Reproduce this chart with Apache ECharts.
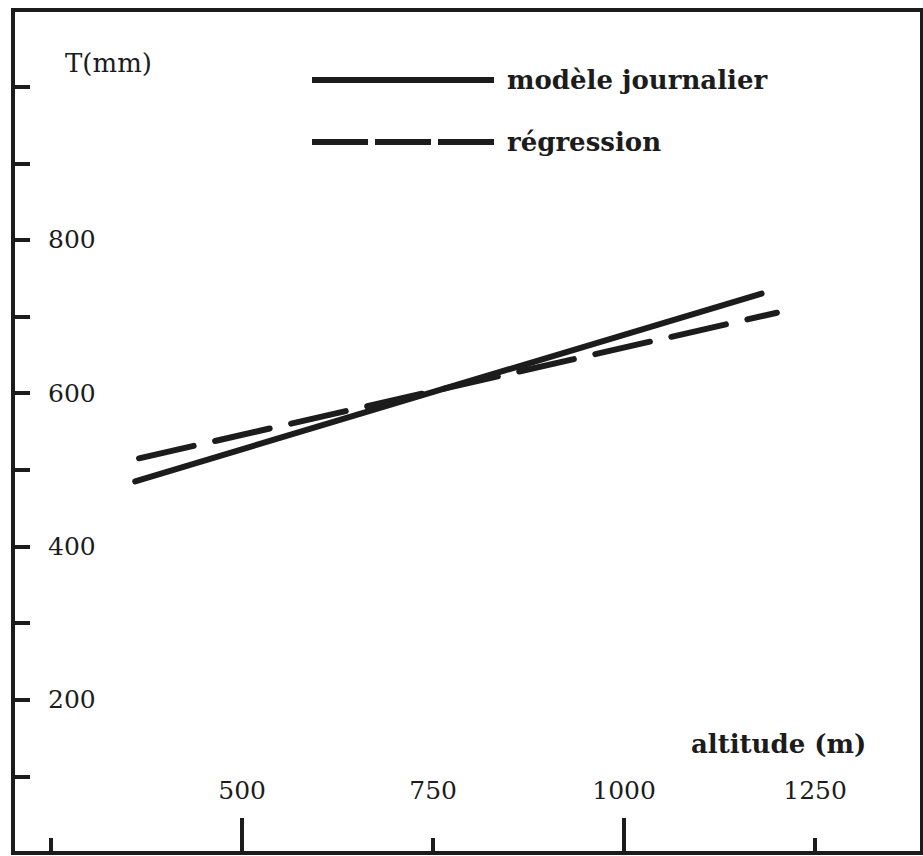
<!DOCTYPE html>
<html>
	<head>
		<meta charset="UTF-8">
		<title></title>
		<style>
			html, body{
				margin: 0;
				padding: 0;
				background: #fff;
			}
			#dContent{
				width: 923px;
				height: 856px;
			}
		</style>
	</head>
	<body>
		<div id="dContent"></div>
	</body>

	<script src="https://cdn.jsdelivr.net/npm/echarts@6/dist/echarts.min.js"></script>
	<script>
		// series names (legend)
		var seriesNames = ['modèle journalier', 'régression'];

		// end points: altitude (m) / T (mm)
		var altModele = [360, 1180];
		var tModele = [485, 730];
		var altRegression = [365, 1200];
		var tRegression = [515, 705];

		// ticks and labels
		var xTicksShort = [250, 750, 1250];
		var xTicksLong = [500, 1000];
		var xLabels = [500, 750, 1000, 1250];
		var yTicks = [100, 200, 300, 400, 500, 600, 700, 800, 900, 1000];
		var yLabels = [200, 400, 600, 800];

		var ink = '#1c1c1c';
		var font = 'DejaVu Serif';

		function pairs(xs, ys){
			var out = [];
			for (var i = 0; i < xs.length; i++) out.push([xs[i], ys[i]]);
			return out;
		}
		function plain(v){
			return String(v);
		}

		var oneChart = echarts.init(document.getElementById('dContent'), null, {renderer: 'svg'});
		oneChart.setOption({
			backgroundColor: '#fff',
			animation: false,
			title: [{
				text: 'T(mm)',
				left: 60,
				top: 45,
				textStyle: {fontFamily: font, fontSize: 26, fontWeight: 'normal', color: ink}
			}, {
				text: 'altitude (m)',
				left: 686,
				top: 726,
				textStyle: {fontFamily: font, fontSize: 26, fontWeight: 'bold', color: ink}
			}],
			legend: {
				orient: 'vertical',
				left: 304,
				top: 60,
				itemWidth: 182,
				itemHeight: 6,
				itemGap: 32,
				textStyle: {fontFamily: font, fontSize: 26, fontWeight: 'bold', color: ink, lineHeight: 30, padding: [0, 0, 0, 8]},
				data: [
					{name: seriesNames[0], icon: 'rect'},
					// key of the original: three long dashes, short gaps
					{name: seriesNames[1], lineStyle: {type: [56, 7], width: 6, cap: 'butt'}, itemStyle: {opacity: 0}}
				]
			},
			grid: {
				left: 13,
				right: 1,
				top: 10,
				bottom: 3,
				show: true,
				borderColor: ink,
				borderWidth: 4
			},
			xAxis: [{
				type: 'value',
				position: 'bottom',
				min: 200,
				max: 1390,
				axisLine: {show: true, lineStyle: {color: ink, width: 4}},
				axisTick: {show: true, inside: true, length: 15, customValues: xTicksShort, lineStyle: {color: ink, width: 4}},
				axisLabel: {inside: true, margin: 50, customValues: xLabels, formatter: plain, fontFamily: font, fontSize: 25, color: ink},
				splitLine: {show: false}
			}, {
				type: 'value',
				position: 'bottom',
				min: 200,
				max: 1390,
				axisLine: {show: false},
				axisTick: {show: true, inside: true, length: 35, customValues: xTicksLong, lineStyle: {color: ink, width: 4}},
				axisLabel: {show: false},
				splitLine: {show: false}
			}],
			yAxis: {
				type: 'value',
				min: 0,
				max: 1100,
				axisLine: {show: true, lineStyle: {color: ink, width: 4}},
				axisTick: {show: true, inside: true, length: 17, customValues: yTicks, lineStyle: {color: ink, width: 4}},
				axisLabel: {inside: true, margin: 35, customValues: yLabels, formatter: plain, fontFamily: font, fontSize: 25, color: ink},
				splitLine: {show: false}
			},
			series: [{
				name: seriesNames[0],
				type: 'line',
				symbol: 'none',
				data: pairs(altModele, tModele),
				lineStyle: {color: ink, width: 6, cap: 'round'},
				itemStyle: {color: ink}
			}, {
				name: seriesNames[1],
				type: 'line',
				symbol: 'none',
				data: pairs(altRegression, tRegression),
				lineStyle: {color: ink, width: 6, type: [56, 22], cap: 'round'},
				itemStyle: {color: ink}
			}]
		});
	</script>
</html>
